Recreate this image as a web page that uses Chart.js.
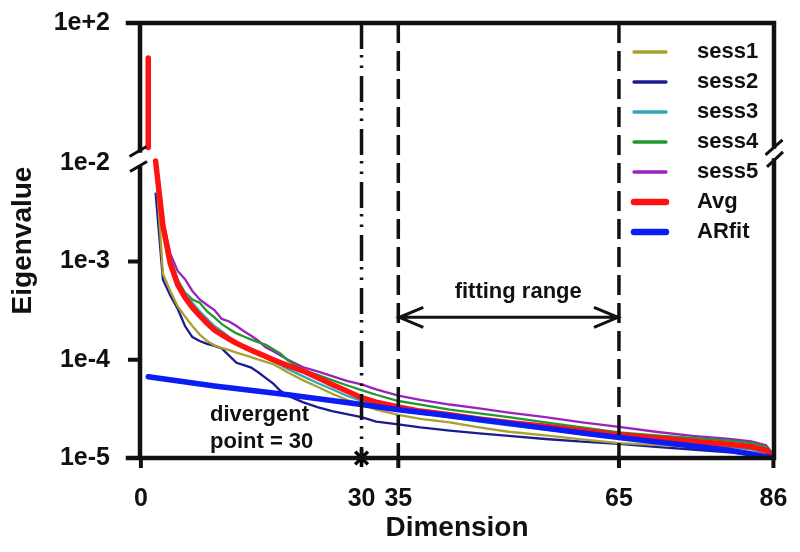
<!DOCTYPE html>
<html>
<head>
<meta charset="utf-8">
<script src="https://cdn.jsdelivr.net/npm/chart.js@4.4.1/dist/chart.umd.min.js"></script>
<style>
  html, body { margin: 0; padding: 0; background: #fff; }
</style>
</head>
<body>
<canvas id="chart" width="800" height="552"></canvas>
<script>
// ============================================================
// DATA
// ============================================================
const dims  = [2,3,4,5,6,7,8,9,10,11,12,13,14,15,16,17,18,19,20,22,24,26,28,30,32,35,38,42,46,50,55,60,65,70,75,80,83,85,86];
const sess1 = [1.0e-2,7.5e-4,5.0e-4,3.5e-4,2.75e-4,2.2e-4,1.8e-4,1.55e-4,1.4e-4,1.32e-4,1.25e-4,1.18e-4,1.12e-4,1.06e-4,1.0e-4,9.5e-5,9.0e-5,8.2e-5,7.4e-5,6.2e-5,5.3e-5,4.5e-5,3.9e-5,3.5e-5,3.1e-5,2.75e-5,2.5e-5,2.3e-5,2.05e-5,1.85e-5,1.7e-5,1.55e-5,1.42e-5,1.36e-5,1.3e-5,1.22e-5,1.15e-5,1.08e-5,1.0e-5];
const sess2 = [5.0e-3,6.5e-4,4.5e-4,3.3e-4,2.2e-4,1.7e-4,1.55e-4,1.45e-4,1.38e-4,1.3e-4,1.1e-4,9.3e-5,8.8e-5,8.3e-5,7.4e-5,6.5e-5,5.7e-5,4.8e-5,4.3e-5,3.7e-5,3.3e-5,3.0e-5,2.8e-5,2.6e-5,2.35e-5,2.2e-5,2.05e-5,1.9e-5,1.78e-5,1.68e-5,1.56e-5,1.47e-5,1.39e-5,1.3e-5,1.22e-5,1.14e-5,1.09e-5,1.04e-5,1.0e-5];
const sess3 = [9.0e-3,2.2e-3,1.05e-3,6.5e-4,4.8e-4,3.8e-4,3.1e-4,2.6e-4,2.2e-4,1.95e-4,1.7e-4,1.5e-4,1.35e-4,1.25e-4,1.15e-4,1.05e-4,9.6e-5,8.8e-5,8.0e-5,6.8e-5,5.8e-5,5.0e-5,4.3e-5,3.8e-5,3.4e-5,3.1e-5,2.85e-5,2.6e-5,2.35e-5,2.15e-5,1.95e-5,1.78e-5,1.62e-5,1.5e-5,1.4e-5,1.3e-5,1.22e-5,1.12e-5,1.0e-5];
const sess4 = [9.8e-3,2.5e-3,1.1e-3,6.5e-4,4.8e-4,4.1e-4,3.8e-4,3.1e-4,2.7e-4,2.3e-4,2.05e-4,1.85e-4,1.72e-4,1.6e-4,1.5e-4,1.42e-4,1.28e-4,1.15e-4,9.8e-5,7.9e-5,7.0e-5,6.2e-5,5.5e-5,4.9e-5,4.4e-5,3.8e-5,3.5e-5,3.1e-5,2.85e-5,2.6e-5,2.3e-5,2.05e-5,1.82e-5,1.7e-5,1.6e-5,1.5e-5,1.42e-5,1.3e-5,1.05e-5];
const sess5 = [9.5e-3,2.6e-3,1.2e-3,8.0e-4,6.6e-4,5.0e-4,4.1e-4,3.6e-4,3.2e-4,2.6e-4,2.45e-4,2.2e-4,1.95e-4,1.75e-4,1.55e-4,1.33e-4,1.22e-4,1.1e-4,1.0e-4,8.4e-5,7.6e-5,6.8e-5,6.1e-5,5.6e-5,5.0e-5,4.3e-5,3.9e-5,3.5e-5,3.2e-5,2.9e-5,2.6e-5,2.3e-5,2.07e-5,1.85e-5,1.68e-5,1.56e-5,1.48e-5,1.35e-5,1.08e-5];
const avg   = [1.05e-2,2.3e-3,9.5e-4,5.8e-4,4.3e-4,3.4e-4,2.8e-4,2.35e-4,2.0e-4,1.8e-4,1.62e-4,1.47e-4,1.35e-4,1.25e-4,1.16e-4,1.08e-4,1.0e-4,9.3e-5,8.7e-5,7.7e-5,6.6e-5,5.6e-5,4.8e-5,4.1e-5,3.7e-5,3.3e-5,3.0e-5,2.75e-5,2.5e-5,2.3e-5,2.1e-5,1.9e-5,1.72e-5,1.6e-5,1.48e-5,1.38e-5,1.3e-5,1.2e-5,1.02e-5];

// first Avg eigenvalue sits above the axis break
const avgFirstDim   = 1;
const avgFirstValue = 7.6;
const breakValue    = 0.0104;   // bottom of the upper panel

const arDims = [1,10,20,30,35,40,50,60,65,70,80,86];
const arfit  = [6.7e-5,5.4e-5,4.4e-5,3.5e-5,3.1e-5,2.8e-5,2.25e-5,1.8e-5,1.62e-5,1.46e-5,1.2e-5,1.0e-5];

const seriesNames  = ["sess1","sess2","sess3","sess4","sess5","Avg","ARfit"];
const seriesColors = ["#a9a232","#1c1c8f","#2fa7b5","#1f9a2c","#9b22bd","#ff1212","#0c1cf5"];
const seriesWidths = [2.3,2.3,2.3,2.3,2.3,5.5,5.5];

const xTicks      = [0,30,35,65,86];
const yTicks      = [1e-5,1e-4,1e-3,1e-2];
const yTickLabels = ["1e-5","1e-4","1e-3","1e-2"];
const topTick = 100, topTickLabel = "1e+2";

const divergentDim = 30;
const fitStart = 35, fitEnd = 65;
const arrowLevel = 2.7e-4;

// ============================================================
// CHART
// ============================================================
const FONT = '"Liberation Sans", Arial, sans-serif';
const INK  = "#111";
Chart.defaults.font.family = FONT;
Chart.defaults.font.weight = "bold";
Chart.defaults.color = INK;

const pts = (xs, ys) => xs.map((x, i) => ({ x, y: ys[i] }));

const datasets = [];
[sess1, sess2, sess3, sess4, sess5].forEach((s, i) => datasets.push({
  label: seriesNames[i], data: pts(dims, s), yAxisID: "y",
  borderColor: seriesColors[i], borderWidth: seriesWidths[i], order: 3,
}));
datasets.push({
  label: "Avg", data: pts(dims, avg), yAxisID: "y",
  borderColor: seriesColors[5], borderWidth: seriesWidths[5], borderCapStyle: "round", order: 2,
});
datasets.push({
  label: "Avg (dim 1)", yAxisID: "y2",
  data: [{ x: avgFirstDim, y: avgFirstValue }, { x: avgFirstDim, y: breakValue }],
  borderColor: seriesColors[5], borderWidth: seriesWidths[5], borderCapStyle: "round", order: 2,
});
datasets.push({
  label: "ARfit", data: pts(arDims, arfit), yAxisID: "y",
  borderColor: seriesColors[6], borderWidth: seriesWidths[6], borderCapStyle: "round", order: 1,
});
datasets.push({
  label: "divergent point", yAxisID: "y", showLine: false, clip: false, order: 0,
  data: [{ x: divergentDim, y: yTicks[0] }],
  pointStyle: "star", pointRadius: 9, pointBorderWidth: 3.5,
  borderColor: "#000", backgroundColor: "#000",
});

const decorations = {
  id: "decorations",
  afterDraw(chart) {
    const { ctx, chartArea: a, scales: { x, y, y2 } } = chart;
    ctx.save();
    ctx.strokeStyle = INK;
    ctx.fillStyle = INK;

    // divergent point + fitting range markers
    const vline = (dim, dash) => {
      const px = x.getPixelForValue(dim);
      ctx.beginPath();
      ctx.setLineDash(dash);
      ctx.lineWidth = 3.5;
      ctx.moveTo(px, a.top);
      ctx.lineTo(px, a.bottom);
      ctx.stroke();
    };
    vline(divergentDim, [26, 6, 2.5, 8, 2.5, 8]);
    vline(fitStart, [20, 8]);
    vline(fitEnd, [20, 8]);
    ctx.setLineDash([]);

    // frame with the axis break
    const by = y2.getPixelForValue(breakValue);
    ctx.lineWidth = 4.5;
    ctx.lineCap = "square";
    ctx.beginPath();
    ctx.moveTo(a.left - 12, a.top);    ctx.lineTo(a.right, a.top);
    ctx.moveTo(a.left - 12, a.bottom); ctx.lineTo(a.right, a.bottom);
    ctx.moveTo(a.left, a.top);         ctx.lineTo(a.left, by + 3);
    ctx.moveTo(a.left, by + 20);       ctx.lineTo(a.left, a.bottom);
    ctx.moveTo(a.right, a.top);        ctx.lineTo(a.right, by - 1);
    ctx.moveTo(a.right, by + 13);      ctx.lineTo(a.right, a.bottom);
    ctx.stroke();

    ctx.lineCap = "butt";
    ctx.lineWidth = 4;
    ctx.beginPath();
    yTicks.slice(1, 3).forEach(v => {
      const py = y.getPixelForValue(v);
      ctx.moveTo(a.left - 12, py); ctx.lineTo(a.left, py);
    });
    xTicks.filter(v => v !== divergentDim).forEach(v => {
      const px = x.getPixelForValue(v);
      ctx.moveTo(px, a.bottom); ctx.lineTo(px, a.bottom + 10);
    });
    ctx.stroke();

    // break slashes
    const slash = (cx, cy, dx, dy) => {
      ctx.moveTo(cx - dx, cy + dy); ctx.lineTo(cx + dx, cy - dy);
    };
    ctx.lineWidth = 3;
    ctx.beginPath();
    slash(a.left - 2, by + 4, 8.5, 5);
    slash(a.left - 1.5, by + 19, 8.5, 5);
    slash(a.right, by, 8.5, 7.5);
    slash(a.right + 1, by + 12, 8, 7.5);
    ctx.stroke();

    // fitting range arrow
    const ay = y.getPixelForValue(arrowLevel);
    const x1 = x.getPixelForValue(fitStart), x2 = x.getPixelForValue(fitEnd);
    ctx.lineWidth = 3;
    ctx.beginPath();
    ctx.moveTo(x1, ay); ctx.lineTo(x2, ay);
    ctx.moveTo(x1 + 25, ay - 10); ctx.lineTo(x1 + 1, ay); ctx.lineTo(x1 + 25, ay + 10);
    ctx.moveTo(x2 - 25, ay - 10); ctx.lineTo(x2 - 1, ay); ctx.lineTo(x2 - 25, ay + 10);
    ctx.stroke();

    // texts
    ctx.textBaseline = "middle";
    ctx.font = `bold 22px ${FONT}`;
    ctx.textAlign = "center";
    ctx.fillText("fitting range", x.getPixelForValue(51.3), y.getPixelForValue(4.9e-4));
    ctx.textAlign = "left";
    ctx.fillText("divergent", x.getPixelForValue(9.4), y.getPixelForValue(2.74e-5));
    ctx.fillText("point = 30", x.getPixelForValue(9.4), y.getPixelForValue(1.45e-5));

    ctx.font = `bold 25px ${FONT}`;
    ctx.textAlign = "right";
    ctx.fillText(topTickLabel, a.left - 30, y2.getPixelForValue(topTick));

    // legend
    ctx.font = `bold 22px ${FONT}`;
    ctx.textAlign = "left";
    ctx.lineCap = "round";
    seriesNames.forEach((name, i) => {
      const ly = a.top + 29 + 30 * i;
      ctx.strokeStyle = seriesColors[i];
      ctx.lineWidth = seriesWidths[i] + 1;
      ctx.beginPath();
      ctx.moveTo(a.right - 140, ly); ctx.lineTo(a.right - 108, ly);
      ctx.stroke();
      ctx.fillText(name, a.right - 77, ly);
    });
    ctx.restore();
  }
};

new Chart(document.getElementById("chart"), {
  type: "line",
  data: { datasets },
  plugins: [decorations],
  options: {
    responsive: false,
    animation: false,
    layout: { padding: { top: 23, right: 26, bottom: 0, left: 0 } },
    plugins: { legend: { display: false }, tooltip: { enabled: false } },
    elements: { point: { radius: 0 }, line: { tension: 0 } },
    scales: {
      x: {
        type: "linear", min: -0.12, max: 86.08,
        grid: { display: false, drawTicks: false }, border: { display: false },
        afterBuildTicks: s => { s.ticks = xTicks.map(v => ({ value: v })); },
        afterFit: s => { s.height = 94; s.paddingLeft = 0; s.paddingRight = 0; },
        ticks: { padding: 26, autoSkip: false, maxRotation: 0, font: { size: 25, weight: "bold" } },
        title: { display: true, text: "Dimension", font: { size: 28, weight: "bold" }, padding: { top: 0, bottom: 7 } },
      },
      y: {
        type: "logarithmic", position: "left", min: 1e-5, max: 0.266,
        grid: { display: false, drawTicks: false }, border: { display: false },
        afterBuildTicks: s => { s.ticks = yTicks.map(v => ({ value: v })); },
        afterFit: s => { s.width = 140; s.paddingTop = 0; s.paddingBottom = 0; },
        ticks: { padding: 30, font: { size: 25, weight: "bold" }, callback: (v, i) => yTickLabels[i] },
        title: { display: true, text: "Eigenvalue", font: { size: 28, weight: "bold" }, padding: { top: 6, bottom: 0 } },
      },
      y2: { type: "logarithmic", display: false, min: 1.2e-12, max: 100 },
    },
  },
});
</script>
</body>
</html>
